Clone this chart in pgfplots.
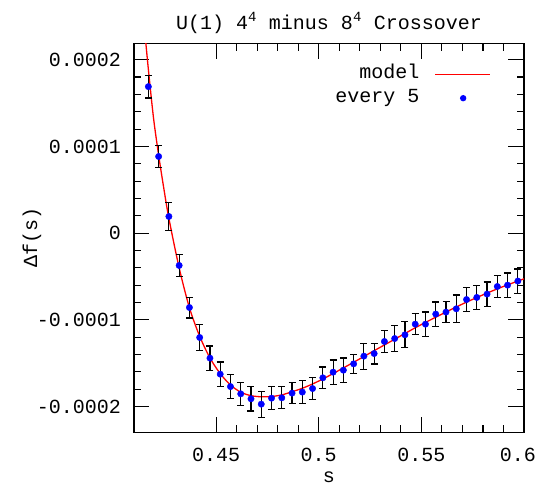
\documentclass[border=0pt]{standalone}
\usepackage{fontspec}
\setmainfont{Liberation Mono}
\usepackage{pgfplots}
\usepackage{pgfplotstable}
\pgfplotsset{compat=1.18}

\pgfplotstableread{
s y e
0.417 0.000169 0.000013
0.422 0.0000884 0.000013
0.427 0.0000192 0.000016
0.432 -0.0000373 0.000013
0.437 -0.0000858 0.000012
0.442 -0.0001204 0.000015
0.447 -0.0001442 0.000014
0.452 -0.0001627 0.000014
0.457 -0.0001770 0.0000135
0.462 -0.0001854 0.0000135
0.467 -0.0001911 0.000014
0.472 -0.0001973 0.000015
0.477 -0.0001904 0.0000135
0.482 -0.0001900 0.0000127
0.487 -0.0001846 0.000012
0.492 -0.0001834 0.000013
0.497 -0.0001793 0.000013
0.502 -0.0001669 0.0000125
0.507 -0.0001604 0.000014
0.512 -0.0001581 0.000014
0.517 -0.0001508 0.000011
0.522 -0.0001419 0.000015
0.527 -0.0001389 0.000012
0.532 -0.0001250 0.000013
0.537 -0.0001216 0.000015
0.542 -0.0001173 0.000015
0.547 -0.0001050 0.000012
0.552 -0.0001050 0.000014
0.557 -0.0000934 0.000014
0.562 -0.0000911 0.000012
0.567 -0.0000873 0.000016
0.572 -0.0000766 0.000014
0.577 -0.0000742 0.000014
0.582 -0.0000703 0.000014
0.587 -0.0000616 0.000013
0.592 -0.0000600 0.000014
0.597 -0.0000553 0.000014
}\datatable

\pgfplotstableread{
s y
0.4145 0.000251
0.417 0.000189
0.4195 0.000133
0.422 0.000090
0.4245 0.000052
0.427 0.000017
0.432 -0.000040
0.437 -0.000086
0.442 -0.000119
0.447 -0.000144
0.452 -0.000162
0.457 -0.0001752
0.462 -0.0001835
0.467 -0.0001875
0.472 -0.0001888
0.477 -0.0001885
0.482 -0.0001866
0.487 -0.0001830
0.492 -0.0001790
0.497 -0.0001740
0.502 -0.0001683
0.507 -0.0001620
0.512 -0.0001555
0.517 -0.0001490
0.522 -0.0001423
0.527 -0.0001356
0.532 -0.0001290
0.537 -0.0001224
0.542 -0.0001158
0.547 -0.0001092
0.552 -0.0001030
0.557 -0.0000970
0.562 -0.0000910
0.567 -0.0000852
0.572 -0.0000796
0.577 -0.0000743
0.582 -0.0000692
0.587 -0.0000643
0.592 -0.0000597
0.597 -0.0000553
0.600 -0.0000527
}\modeltable

\begin{document}
\begin{tikzpicture}
\useasboundingbox (-134bp,-52.5bp) rectangle (403bp,432.5bp);
\begin{axis}[
  at={(0,0)}, anchor=south west,
  scale only axis, width=390bp, height=389.2bp,
  xmin=0.41, xmax=0.6, ymin=-0.00023, ymax=0.000219,
  enlargelimits=false, clip=true,
  scaled x ticks=false, scaled y ticks=false,
  font=\fontsize{20bp}{23bp}\selectfont,
  xtick={0.45,0.5,0.55,0.6},
  xticklabels={0.45,0.5,0.55,\kern-12bp 0.6},
  ytick={-0.0002,-0.0001,0,0.0001,0.0002},
  yticklabels={-0.0002,-0.0001,0,0.0001,0.0002},
  minor x tick num=4, minor y tick num=4,
  tick align=inside,
  major tick length=15.5bp, minor tick length=7.5bp,
  axis line style={line width=1.2bp, black},
  every tick/.style={line width=1.2bp, black},
  xticklabel style={anchor=base, inner sep=0pt, yshift=-28.5bp},
  yticklabel style={anchor=east, inner sep=0pt, xshift=-13bp},
  xlabel={s},
  every axis x label/.style={at={(axis description cs:0.5,0)}, anchor=base, inner sep=0pt, yshift=-49.5bp},
  ylabel={Δf(s)},
  every axis y label/.style={at={(axis description cs:-0.2615,0.5)}, anchor=center, rotate=90},
  title={U(1) 4\textsuperscript{4} minus 8\textsuperscript{4} Crossover},
  every axis title/.style={at={(axis description cs:0.5,1)}, anchor=base, yshift=14bp},
  legend plot pos=right,
  legend cell align=right,
  legend style={draw=none, fill=none, at={(rel axis cs:0.9154,0.9417)}, anchor=north east,
    inner sep=0pt, column sep=15bp, row sep=8bp,
    nodes={inner sep=0pt, text height=12bp, text depth=4bp}},
]
\addplot[red, line width=1.3bp, smooth, mark=none,
  legend image code/.code={\draw[red, line width=1.3bp] (0bp,0bp) -- (55bp,0bp);}]
  table[x=s, y=y] {\modeltable};
\addlegendentry{model}
\addplot[draw=none, mark=none, forget plot,
  error bars/.cd, y dir=both, y explicit,
  error bar style={black, line width=1.2bp},
  error mark options={black, rotate=90, mark size=3.5bp, line width=1.2bp}]
  table[x=s, y=y, y error=e] {\datatable};
\addplot[only marks, mark=*, mark size=3.2bp, color=blue, mark options={fill=blue, draw=blue},
  legend image code/.code={\path[draw=none,fill=none] (0bp,0bp) -- (55bp,0bp); \fill[blue,draw=none] (28bp,0bp) circle (3.2bp);}]
  table[x=s, y=y] {\datatable};
\addlegendentry{every 5}
\end{axis}
\end{tikzpicture}
\end{document}
